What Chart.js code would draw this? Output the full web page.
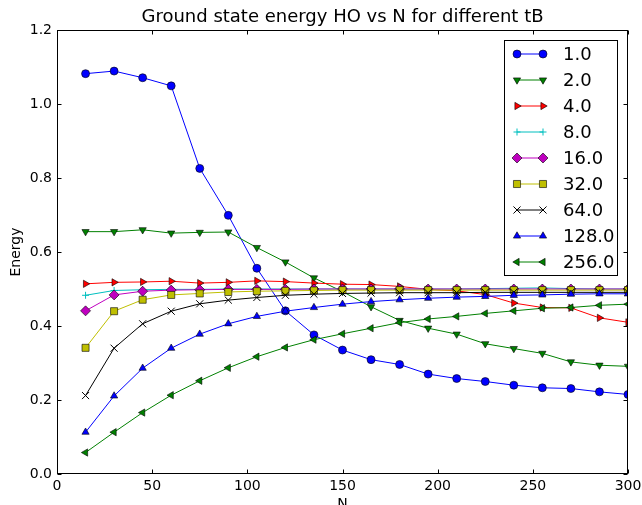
<!DOCTYPE html>
<html>
<head>
<meta charset="utf-8">
<script src="https://cdn.jsdelivr.net/npm/chart.js@4/dist/chart.umd.min.js"></script>
<style>
  body { margin: 0; background: #fff; }
  canvas { display: block; }
</style>
</head>
<body>
<canvas id="myChart" width="642" height="505"></canvas>
<script>
// valores de N (eje x)
const nValues = [15, 30, 45, 60, 75, 90, 105, 120, 135, 150, 165, 180, 195, 210, 225, 240, 255, 270, 285, 300];

// etiquetas de tB para cada serie
const tbLabels = ['1.0', '2.0', '4.0', '8.0', '16.0', '32.0', '64.0', '128.0', '256.0'];

// energia del estado base por cada tB
const eTb1 = [1.082, 1.089, 1.071, 1.049, 0.826, 0.699, 0.556, 0.441, 0.376, 0.335, 0.309, 0.296, 0.270, 0.258, 0.250, 0.240, 0.233, 0.231, 0.222, 0.215];
const eTb2 = [0.655, 0.655, 0.660, 0.651, 0.653, 0.654, 0.612, 0.573, 0.530, 0.493, 0.452, 0.415, 0.394, 0.378, 0.352, 0.339, 0.326, 0.303, 0.294, 0.291];
const eTb4 = [0.514, 0.518, 0.519, 0.521, 0.516, 0.518, 0.522, 0.520, 0.516, 0.513, 0.512, 0.507, 0.499, 0.495, 0.485, 0.462, 0.450, 0.449, 0.422, 0.410];
const eTb8 = [0.483, 0.496, 0.498, 0.499, 0.499, 0.500, 0.500, 0.500, 0.500, 0.500, 0.500, 0.500, 0.500, 0.500, 0.501, 0.502, 0.503, 0.501, 0.500, 0.500];
const eTb16 = [0.441, 0.484, 0.494, 0.497, 0.498, 0.499, 0.499, 0.499, 0.500, 0.500, 0.500, 0.500, 0.500, 0.500, 0.500, 0.500, 0.500, 0.500, 0.500, 0.500];
const eTb32 = [0.341, 0.440, 0.471, 0.484, 0.488, 0.492, 0.494, 0.495, 0.496, 0.497, 0.497, 0.497, 0.497, 0.497, 0.497, 0.497, 0.497, 0.497, 0.497, 0.497];
const eTb64 = [0.212, 0.340, 0.406, 0.440, 0.460, 0.470, 0.477, 0.483, 0.486, 0.488, 0.489, 0.490, 0.490, 0.490, 0.491, 0.491, 0.491, 0.491, 0.491, 0.491];
const eTb128 = [0.113, 0.211, 0.286, 0.340, 0.378, 0.406, 0.426, 0.440, 0.450, 0.459, 0.466, 0.471, 0.475, 0.478, 0.480, 0.483, 0.484, 0.486, 0.487, 0.487];
const eTb256 = [0.058, 0.113, 0.166, 0.213, 0.252, 0.287, 0.317, 0.342, 0.363, 0.379, 0.394, 0.409, 0.419, 0.426, 0.434, 0.441, 0.448, 0.450, 0.456, 0.459];

const seriesData = [eTb1, eTb2, eTb4, eTb8, eTb16, eTb32, eTb64, eTb128, eTb256];

// estilo de cada serie: color, marcador, rotacion, radio
const styles = [
    { color: '#0000ff', point: 'circle', rot: 0, r: 4 },
    { color: '#008000', point: 'triangle', rot: 180, r: 4.2 },
    { color: '#ff0000', point: 'triangle', rot: 90, r: 4.2 },
    { color: '#00bfbf', point: 'cross', rot: 0, r: 3.5 },
    { color: '#bf00bf', point: 'rectRot', rot: 0, r: 5 },
    { color: '#bfbf00', point: 'rect', rot: 0, r: 5 },
    { color: '#000000', point: 'crossRot', rot: 0, r: 5 },
    { color: '#0000ff', point: 'triangle', rot: 0, r: 4.2 },
    { color: '#008000', point: 'triangle', rot: 270, r: 4.2 }
];

const font = 'DejaVu Sans';

const datasets = seriesData.map((vals, i) => {
    const s = styles[i];
    const unfilled = s.point === 'cross' || s.point === 'crossRot';
    return {
        label: tbLabels[i],
        data: nValues.map((n, j) => ({ x: n, y: vals[j] })),
        borderColor: s.color,
        borderWidth: 1,
        backgroundColor: s.color,
        pointStyle: s.point,
        pointRotation: s.rot,
        pointRadius: s.r,
        pointHoverRadius: s.r,
        pointBackgroundColor: s.color,
        pointBorderColor: unfilled ? s.color : '#000000',
        pointBorderWidth: unfilled ? 1 : 0.6,
        tension: 0,
        // la ultima serie queda encima
        order: seriesData.length - i
    };
});

// marco y ticks hacia adentro en los cuatro lados
const frameTicks = {
    id: 'frameTicks',
    afterDatasetsDraw(chart) {
        const { ctx, chartArea: a, scales: { x, y } } = chart;
        ctx.save();
        ctx.strokeStyle = '#000';
        ctx.lineWidth = 1;
        const l = Math.round(a.left) + 0.5, r = Math.round(a.right) - 0.5;
        const t = Math.round(a.top) + 0.5, b = Math.round(a.bottom) - 0.5;
        ctx.strokeRect(l, t, r - l, b - t);
        ctx.beginPath();
        x.ticks.forEach(tk => {
            const px = Math.round(x.getPixelForValue(tk.value)) + 0.5;
            ctx.moveTo(px, b); ctx.lineTo(px, b - 4);
            ctx.moveTo(px, t); ctx.lineTo(px, t + 4);
        });
        y.ticks.forEach(tk => {
            const py = Math.round(y.getPixelForValue(tk.value)) + 0.5;
            ctx.moveTo(l, py); ctx.lineTo(l + 4, py);
            ctx.moveTo(r, py); ctx.lineTo(r - 4, py);
        });
        ctx.stroke();
        ctx.restore();
    }
};

// leyenda con linea y dos marcadores como en matplotlib
const legendBox = {
    id: 'legendBox',
    afterDraw(chart) {
        const ctx = chart.ctx;
        ctx.save();
        ctx.fillStyle = '#fff';
        ctx.fillRect(504.5, 40.5, 113, 235);
        ctx.strokeStyle = '#000';
        ctx.lineWidth = 1;
        ctx.strokeRect(504.5, 40.5, 113, 235);
        chart.data.datasets.forEach((ds, i) => {
            const cy = 54 + i * 26;
            ctx.strokeStyle = ds.borderColor;
            ctx.lineWidth = 1;
            ctx.beginPath();
            ctx.moveTo(517, cy); ctx.lineTo(543, cy);
            ctx.stroke();
            ctx.fillStyle = ds.pointBackgroundColor;
            ctx.strokeStyle = ds.pointBorderColor;
            ctx.lineWidth = ds.pointBorderWidth;
            [517, 543].forEach(px => {
                Chart.helpers.drawPoint(ctx, {
                    pointStyle: ds.pointStyle,
                    rotation: ds.pointRotation,
                    radius: ds.pointRadius,
                    borderWidth: ds.pointBorderWidth
                }, px, cy);
            });
            ctx.fillStyle = '#000';
            ctx.font = '18px "' + font + '"';
            ctx.textBaseline = 'middle';
            ctx.textAlign = 'left';
            ctx.fillText(ds.label, 563, cy + 1);
        });
        ctx.restore();
    }
};

const ctx = document.getElementById('myChart').getContext('2d');
const myChart = new Chart(ctx, {
    type: 'line',
    data: { datasets: datasets },
    plugins: [frameTicks, legendBox],
    options: {
        responsive: false,
        animation: false,
        events: [],
        layout: { padding: { left: 0, right: 14, top: 0, bottom: 0 } },
        scales: {
            x: {
                type: 'linear',
                min: 0,
                max: 300,
                afterFit: s => { s.height = 31; s.paddingLeft = 0; s.paddingRight = 0; },
                ticks: { stepSize: 50, color: '#000', padding: 4, font: { family: font, size: 14 } },
                grid: { drawOnChartArea: false, drawTicks: false },
                border: { display: false },
                title: { display: true, text: 'N', color: '#000', padding: { top: 0, bottom: -8 }, font: { family: font, size: 14 } }
            },
            y: {
                min: 0,
                max: 1.2,
                afterFit: s => { s.width = 57; s.paddingTop = 0; s.paddingBottom = 0; },
                ticks: { stepSize: 0.2, color: '#000', padding: 5, font: { family: font, size: 14 },
                         callback: v => v.toFixed(1) },
                grid: { drawOnChartArea: false, drawTicks: false },
                border: { display: false },
                title: { display: true, text: 'Energy', color: '#000', padding: { top: 8, bottom: 0 }, font: { family: font, size: 14 } }
            }
        },
        plugins: {
            legend: { display: false },
            tooltip: { enabled: false },
            title: {
                display: true,
                text: 'Ground state energy HO vs N for different tB',
                fullSize: false,
                color: '#000',
                font: { family: font, size: 18, weight: 'normal' },
                padding: { top: 7, bottom: 1.4 }
            }
        }
    }
});
</script>
</body>
</html>
